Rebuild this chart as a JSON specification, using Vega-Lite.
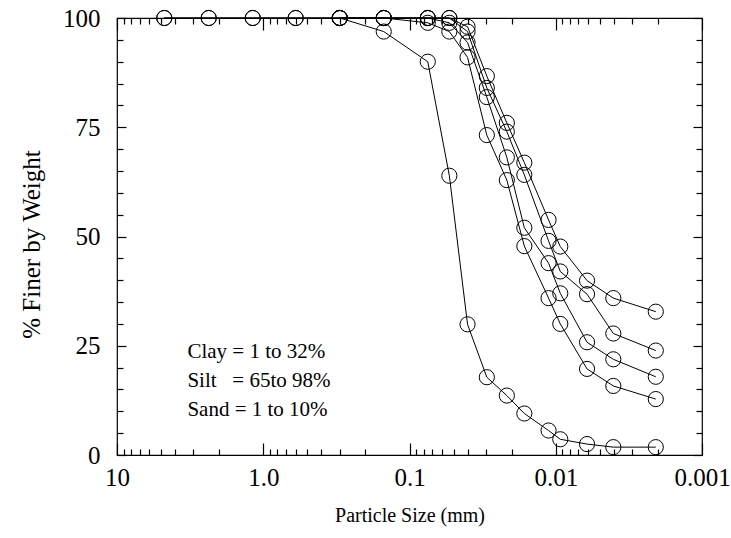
{
  "$schema": "https://vega.github.io/schema/vega-lite/v6.json",
  "width": 585,
  "height": 437,
  "autosize": "none",
  "padding": {"left": 117, "top": 18, "right": 29, "bottom": 83},
  "background": "white",
  "config": {
    "view": {"stroke": "black", "strokeWidth": 1.2},
    "font": "Liberation Serif",
    "axis": {"grid": false, "domain": false, "tickColor": "black", "labelColor": "black", "titleColor": "black", "labelFont": "Liberation Serif", "titleFont": "Liberation Serif", "titleFontWeight": "normal", "tickWidth": 1.2}
  },
  "datasets": {
    "curves": [
      {"series": "A", "d": 4.75, "pct": 100}, {"series": "A", "d": 2.36, "pct": 100}, {"series": "A", "d": 1.18, "pct": 100}, {"series": "A", "d": 0.6, "pct": 100}, {"series": "A", "d": 0.3, "pct": 100}, {"series": "A", "d": 0.15, "pct": 96.9}, {"series": "A", "d": 0.075, "pct": 90}, {"series": "A", "d": 0.0534, "pct": 63.9}, {"series": "A", "d": 0.0401, "pct": 29.9}, {"series": "A", "d": 0.0296, "pct": 17.8}, {"series": "A", "d": 0.0216, "pct": 13.6}, {"series": "A", "d": 0.0164, "pct": 9.5}, {"series": "A", "d": 0.0112, "pct": 5.6}, {"series": "A", "d": 0.00931, "pct": 3.6}, {"series": "A", "d": 0.00611, "pct": 2.5}, {"series": "A", "d": 0.00404, "pct": 1.8}, {"series": "A", "d": 0.00207, "pct": 1.8},
      {"series": "B", "d": 4.75, "pct": 100}, {"series": "B", "d": 2.36, "pct": 100}, {"series": "B", "d": 1.18, "pct": 100}, {"series": "B", "d": 0.6, "pct": 100}, {"series": "B", "d": 0.3, "pct": 100}, {"series": "B", "d": 0.15, "pct": 100}, {"series": "B", "d": 0.075, "pct": 100}, {"series": "B", "d": 0.0534, "pct": 100}, {"series": "B", "d": 0.0401, "pct": 98}, {"series": "B", "d": 0.0296, "pct": 86.7}, {"series": "B", "d": 0.0216, "pct": 76}, {"series": "B", "d": 0.0164, "pct": 66.9}, {"series": "B", "d": 0.0112, "pct": 53.8}, {"series": "B", "d": 0.00931, "pct": 47.7}, {"series": "B", "d": 0.00611, "pct": 39.9}, {"series": "B", "d": 0.00404, "pct": 35.9}, {"series": "B", "d": 0.00207, "pct": 32.8},
      {"series": "C", "d": 0.3, "pct": 100}, {"series": "C", "d": 0.15, "pct": 100}, {"series": "C", "d": 0.075, "pct": 100}, {"series": "C", "d": 0.0534, "pct": 100}, {"series": "C", "d": 0.0401, "pct": 96.9}, {"series": "C", "d": 0.0296, "pct": 84}, {"series": "C", "d": 0.0216, "pct": 74}, {"series": "C", "d": 0.0164, "pct": 64.1}, {"series": "C", "d": 0.0112, "pct": 49}, {"series": "C", "d": 0.00931, "pct": 42}, {"series": "C", "d": 0.00611, "pct": 36.8}, {"series": "C", "d": 0.00404, "pct": 27.8}, {"series": "C", "d": 0.00207, "pct": 23.9},
      {"series": "D", "d": 0.3, "pct": 100}, {"series": "D", "d": 0.15, "pct": 100}, {"series": "D", "d": 0.075, "pct": 100}, {"series": "D", "d": 0.0534, "pct": 98.9}, {"series": "D", "d": 0.0401, "pct": 94.4}, {"series": "D", "d": 0.0296, "pct": 81.9}, {"series": "D", "d": 0.0216, "pct": 68.1}, {"series": "D", "d": 0.0164, "pct": 52}, {"series": "D", "d": 0.0112, "pct": 43.9}, {"series": "D", "d": 0.00931, "pct": 37}, {"series": "D", "d": 0.00611, "pct": 25.8}, {"series": "D", "d": 0.00404, "pct": 21.9}, {"series": "D", "d": 0.00207, "pct": 17.9},
      {"series": "E", "d": 0.3, "pct": 100}, {"series": "E", "d": 0.15, "pct": 100}, {"series": "E", "d": 0.075, "pct": 98.9}, {"series": "E", "d": 0.0534, "pct": 96.9}, {"series": "E", "d": 0.0401, "pct": 91}, {"series": "E", "d": 0.0296, "pct": 73.2}, {"series": "E", "d": 0.0216, "pct": 62.9}, {"series": "E", "d": 0.0164, "pct": 47.8}, {"series": "E", "d": 0.0112, "pct": 35.9}, {"series": "E", "d": 0.00931, "pct": 30}, {"series": "E", "d": 0.00611, "pct": 19.7}, {"series": "E", "d": 0.00404, "pct": 15.8}, {"series": "E", "d": 0.00207, "pct": 12.8}
    ],
    "notes": [
      {"d": 3.3, "pct": 23.6, "label": "Clay = 1 to 32%"},
      {"d": 3.3, "pct": 16.9, "label": "Silt\u00a0\u00a0 = 65to 98%"},
      {"d": 3.3, "pct": 10.4, "label": "Sand = 1 to 10%"}
    ]
  },
  "data": {"name": "curves"},
  "resolve": {"axis": {"x": "independent", "y": "independent"}},
  "layer": [
    {
      "mark": {"type": "line", "color": "black", "strokeWidth": 1, "interpolate": "linear"},
      "encoding": {
        "x": {"field": "d", "type": "quantitative", "scale": {"type": "log", "domain": [0.001, 10], "reverse": true, "nice": false},
          "axis": {"orient": "bottom", "values": [10, 1, 0.1, 0.01, 0.001], "ticks": false, "labelFontSize": 25, "labelPadding": 10, "labelFlush": false, "labelOverlap": false, "labelExpr": "datum.value == 1 ? '1.0' : format(datum.value, '~g')", "title": "Particle Size (mm)", "titleFontSize": 20, "titlePadding": 15}},
        "y": {"field": "pct", "type": "quantitative", "scale": {"domain": [0, 100], "nice": false},
          "axis": {"orient": "left", "values": [0, 25, 50, 75, 100], "ticks": false, "labelFontSize": 25, "labelPadding": 17, "labelFlush": false, "labelOverlap": false, "title": "% Finer by Weight", "titleFontSize": 25, "titlePadding": 18, "titleY": 226}},
        "detail": {"field": "series"}
      }
    },
    {
      "mark": {"type": "point", "shape": "circle", "filled": false, "stroke": "black", "strokeWidth": 1, "size": 230, "opacity": 1},
      "encoding": {
        "x": {"field": "d", "type": "quantitative", "scale": {"type": "log", "domain": [0.001, 10], "reverse": true, "nice": false},
          "axis": {"orient": "bottom", "values": [10, 1, 0.1, 0.01, 0.001], "labels": false, "tickSize": -12, "title": null}},
        "y": {"field": "pct", "type": "quantitative", "scale": {"domain": [0, 100], "nice": false},
          "axis": {"orient": "left", "values": [0, 25, 50, 75, 100], "labels": false, "tickSize": -9, "title": null}}
      }
    },
    {
      "mark": {"type": "point", "opacity": 0},
      "encoding": {
        "x": {"field": "d", "type": "quantitative", "scale": {"type": "log", "domain": [0.001, 10], "reverse": true, "nice": false},
          "axis": {"orient": "bottom", "values": [9, 8, 7, 6, 5, 4, 3, 2, 0.9, 0.8, 0.7, 0.6, 0.5, 0.4, 0.3, 0.2, 0.09, 0.08, 0.07, 0.06, 0.05, 0.04, 0.03, 0.02, 0.009, 0.008, 0.007, 0.006, 0.005, 0.004, 0.003, 0.002], "labels": false, "tickSize": -6, "title": null}},
        "y": {"field": "pct", "type": "quantitative", "scale": {"domain": [0, 100], "nice": false},
          "axis": {"orient": "left", "values": [5, 10, 15, 20, 30, 35, 40, 45, 55, 60, 65, 70, 80, 85, 90, 95], "labels": false, "tickSize": -6, "title": null}}
      }
    },
    {
      "mark": {"type": "point", "opacity": 0},
      "encoding": {
        "x": {"field": "d", "type": "quantitative", "scale": {"type": "log", "domain": [0.001, 10], "reverse": true, "nice": false},
          "axis": {"orient": "top", "values": [10, 1, 0.1, 0.01, 0.001], "labels": false, "tickSize": -12, "title": null}},
        "y": {"field": "pct", "type": "quantitative", "scale": {"domain": [0, 100], "nice": false},
          "axis": {"orient": "right", "values": [0, 25, 50, 75, 100], "labels": false, "tickSize": -9, "title": null}}
      }
    },
    {
      "mark": {"type": "point", "opacity": 0},
      "encoding": {
        "x": {"field": "d", "type": "quantitative", "scale": {"type": "log", "domain": [0.001, 10], "reverse": true, "nice": false},
          "axis": {"orient": "top", "values": [9, 8, 7, 6, 5, 4, 3, 2, 0.9, 0.8, 0.7, 0.6, 0.5, 0.4, 0.3, 0.2, 0.09, 0.08, 0.07, 0.06, 0.05, 0.04, 0.03, 0.02, 0.009, 0.008, 0.007, 0.006, 0.005, 0.004, 0.003, 0.002], "labels": false, "tickSize": -6, "title": null}},
        "y": {"field": "pct", "type": "quantitative", "scale": {"domain": [0, 100], "nice": false},
          "axis": {"orient": "right", "values": [5, 10, 15, 20, 30, 35, 40, 45, 55, 60, 65, 70, 80, 85, 90, 95], "labels": false, "tickSize": -6, "title": null}}
      }
    },
    {
      "data": {"name": "notes"},
      "mark": {"type": "text", "align": "left", "baseline": "middle", "fontSize": 21, "font": "Liberation Serif", "color": "black"},
      "encoding": {
        "x": {"field": "d", "type": "quantitative", "axis": null},
        "y": {"field": "pct", "type": "quantitative", "axis": null},
        "text": {"field": "label"}
      }
    }
  ]
}
